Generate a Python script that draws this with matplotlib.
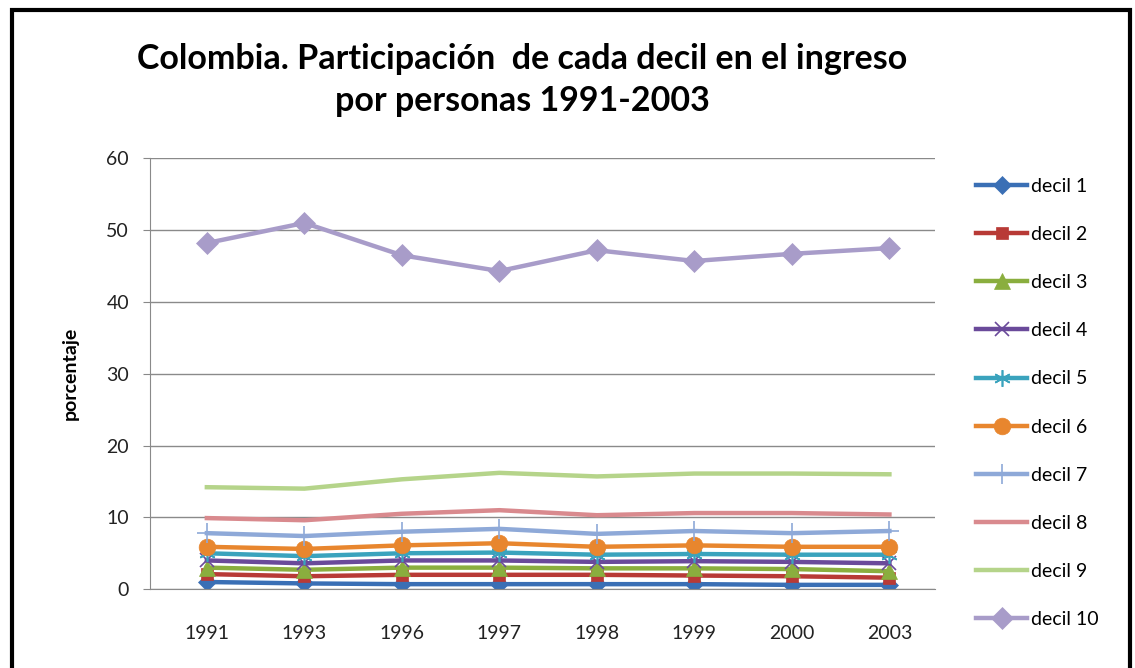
import numpy as np
import matplotlib.pyplot as plt
from matplotlib.patches import Rectangle

# datos
years = ['1991', '1993', '1996', '1997', '1998', '1999', '2000', '2003']
labels = ['decil 1', 'decil 2', 'decil 3', 'decil 4', 'decil 5',
          'decil 6', 'decil 7', 'decil 8', 'decil 9', 'decil 10']

decil1 = [1.0, 0.8, 0.7, 0.7, 0.7, 0.7, 0.6, 0.6]
decil2 = [2.1, 1.8, 2.0, 2.0, 2.0, 1.9, 1.8, 1.6]
decil3 = [3.0, 2.7, 3.0, 3.0, 2.9, 2.9, 2.8, 2.5]
decil4 = [4.0, 3.6, 4.0, 4.0, 3.8, 3.9, 3.8, 3.6]
decil5 = [5.0, 4.6, 5.0, 5.1, 4.8, 4.9, 4.8, 4.8]
decil6 = [5.9, 5.6, 6.1, 6.4, 5.9, 6.1, 5.9, 5.9]
decil7 = [7.8, 7.4, 8.0, 8.4, 7.7, 8.1, 7.8, 8.1]
decil8 = [9.9, 9.6, 10.5, 11.0, 10.3, 10.6, 10.6, 10.4]
decil9 = [14.2, 14.0, 15.3, 16.2, 15.7, 16.1, 16.1, 16.0]
decil10 = [48.2, 51.0, 46.5, 44.3, 47.2, 45.7, 46.7, 47.5]

series = [decil1, decil2, decil3, decil4, decil5,
          decil6, decil7, decil8, decil9, decil10]

colors = ['#3A6FB5', '#B83A36', '#8AAE3E', '#6A4A9A', '#3AA3BD',
          '#E8862E', '#8EA9D8', '#D98A8E', '#B5D48A', '#A89CC9']
markers = ['D', 's', '^', 'x', (6, 2, 0), 'o', '+', None, None, 'D']
msizes = [9, 9, 11, 10, 12, 12, 14, 0, 0, 11]

plt.rcParams['font.family'] = ['Lato', 'DejaVu Sans']

fig = plt.figure(figsize=(11.35, 6.68), dpi=100)
ax = fig.add_axes([0.132, 0.118, 0.692, 0.645])

x = np.arange(len(years))
for vals, lab, c, m, ms in zip(series, labels, colors, markers, msizes):
    ax.plot(x, vals, color=c, lw=3.2, marker=m, markersize=ms,
            markeredgewidth=1.2 if m in ('x', '+', (6, 2, 0)) else 0.5,
            markeredgecolor=c, label=lab)

ax.set_ylim(0, 60)
ax.set_yticks(range(0, 61, 10))
ax.set_xlim(-0.585, 7.47)
ax.set_xticks(x)
ax.set_xticklabels(years)
ax.tick_params(axis='x', labelsize=14, colors='#222222', length=0, pad=26)
ax.tick_params(axis='y', labelsize=14, colors='#222222', length=5,
               color='#888888', pad=10)
ax.grid(axis='y', color='#8a8a8a', lw=1)
ax.set_axisbelow(True)
for s in ['top', 'right']:
    ax.spines[s].set_visible(False)
for s in ['left', 'bottom']:
    ax.spines[s].set_color('#8a8a8a')
ax.set_ylabel('porcentaje', fontsize=14, fontweight='bold', labelpad=20)

fig.text(0.46, 0.88, 'Colombia. Participación  de cada decil en el ingreso\npor personas 1991-2003',
         ha='center', va='center', fontsize=24.5, fontweight='bold',
         linespacing=1.4)

ax.legend(loc='upper left', bbox_to_anchor=(1.03, 0.995), frameon=False,
          fontsize=14, labelspacing=1.6, handlelength=2.6, handletextpad=0.2)

# marco exterior
fig.patches.append(Rectangle((12 / 1135, -0.05), 1118 / 1135, 1 - 10 / 668 + 0.05,
                             transform=fig.transFigure, fill=False,
                             edgecolor='black', lw=3))

fig.savefig('out.png', dpi=100)
